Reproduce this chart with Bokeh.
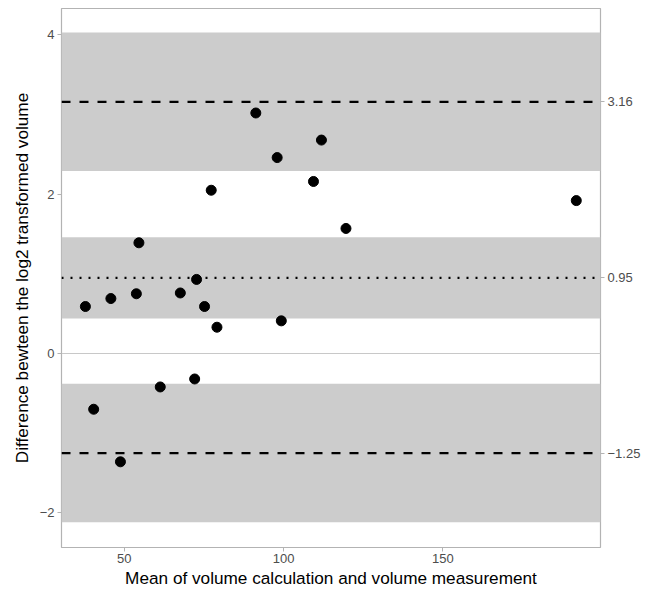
from bokeh.plotting import figure
from bokeh.models import Range1d, LinearAxis, FixedTicker, BoxAnnotation, Span
from bokeh.embed import file_html
from bokeh.resources import INLINE

# Data
mean_vol = [37.8, 40.4, 45.8, 48.8, 53.8, 54.6, 61.3, 67.6, 72.1, 72.7,
            75.2, 77.3, 79.1, 91.3, 98.0, 99.3, 109.4, 111.9, 119.6, 191.9]
diff_log2 = [0.59, -0.70, 0.69, -1.36, 0.75, 1.39, -0.42, 0.76, -0.32, 0.93,
             0.59, 2.05, 0.33, 3.02, 2.46, 0.41, 2.16, 2.68, 1.57, 1.92]

bias = 0.95
loa_upper = 3.16
loa_lower = -1.25
bias_ci = (0.44, 1.46)
upper_ci = (2.29, 4.03)
lower_ci = (-2.12, -0.38)

x_ticks = [50, 100, 150]
y_ticks = [-2, 0, 2, 4]
y_tick_labels = ["\u22122", "0", "2", "4"]
right_ticks = [3.16, 0.95, -1.25]
right_labels = ["3.16", "0.95", "\u22121.25"]

FONT = "Liberation Sans"
GRAY_TXT = "#4D4D4D"
GRAY_LINE = "#B3B3B3"

p = figure(width=643, height=590, output_backend="svg", toolbar_location=None,
           x_range=Range1d(30.3, 199.5), y_range=Range1d(-2.436, 4.332),
           min_border_left=61, min_border_right=41, min_border_top=8,
           min_border_bottom=43)

p.background_fill_color = "white"
p.border_fill_color = "white"
p.outline_line_color = GRAY_LINE
p.outline_line_width = 1.2
p.xgrid.visible = False
p.ygrid.visible = False

for lo, hi in (upper_ci, bias_ci, lower_ci):
    p.add_layout(BoxAnnotation(bottom=lo, top=hi, fill_color="#CCCCCC",
                               fill_alpha=1.0, line_color=None, level="underlay"))

p.add_layout(Span(location=0, dimension="width", line_color="#C8C8C8",
                  line_width=1.2, level="underlay"))
p.add_layout(Span(location=loa_upper, dimension="width", line_color="black",
                  line_width=2.2, line_dash="9 9", level="underlay"))
p.add_layout(Span(location=loa_lower, dimension="width", line_color="black",
                  line_width=2.2, line_dash="9 9", level="underlay"))
p.add_layout(Span(location=bias, dimension="width", line_color="black",
                  line_width=2.2, line_dash="2 7", level="underlay"))

p.scatter(mean_vol, diff_log2, size=10, fill_color="black", line_color="black")

xaxis = p.xaxis[0]
yaxis = p.yaxis[0]
xaxis.ticker = FixedTicker(ticks=x_ticks)
yaxis.ticker = FixedTicker(ticks=y_ticks)
yaxis.major_label_overrides = {t: l for t, l in zip(y_ticks, y_tick_labels)}

right_axis = LinearAxis(ticker=FixedTicker(ticks=right_ticks),
                        major_label_overrides={t: l for t, l in zip(right_ticks, right_labels)})
p.add_layout(right_axis, "right")

xaxis.axis_label = "Mean of volume calculation and volume measurement"
yaxis.axis_label = "Difference bewteen the log2 transformed volume"
right_axis.axis_label = None

for ax in (xaxis, yaxis, right_axis):
    ax.axis_line_color = None
    ax.major_tick_line_color = GRAY_LINE
    ax.major_tick_out = 4
    ax.major_tick_in = 0
    ax.minor_tick_line_color = None
    ax.major_label_text_font = FONT
    ax.major_label_text_font_size = "13px"
    ax.major_label_text_color = GRAY_TXT
    ax.major_label_standoff = 3
    ax.axis_label_text_font = FONT
    ax.axis_label_text_font_size = "17.2px"
    ax.axis_label_text_font_style = "normal"
    ax.axis_label_text_color = "black"
    ax.axis_label_standoff = 5
xaxis.major_label_standoff = 2
xaxis.axis_label_standoff = 2

open("out.html", "w").write(file_html(p, INLINE))
